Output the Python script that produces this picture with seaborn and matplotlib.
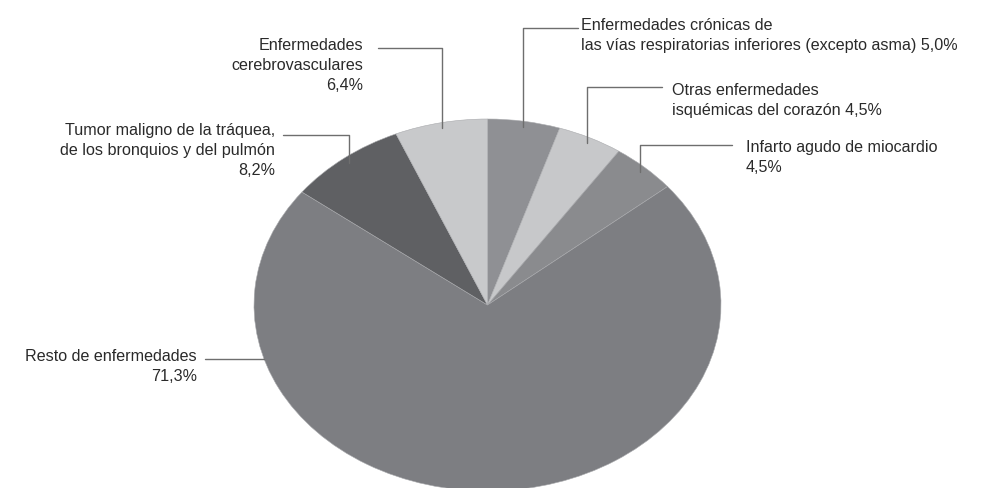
import numpy as np
import matplotlib
matplotlib.use("Agg")
import matplotlib.pyplot as plt
import seaborn as sns

# Datos del gráfico (sentido horario desde las 12)
causas = [
    "Enfermedades crónicas de\nlas vías respiratorias inferiores (excepto asma)",
    "Otras enfermedades\nisquémicas del corazón",
    "Infarto agudo de miocardio",
    "Resto de enfermedades",
    "Tumor maligno de la tráquea,\nde los bronquios y del pulmón",
    "Enfermedades\ncerebrovasculares",
]
porcentajes = [5.0, 4.5, 4.5, 71.3, 8.2, 6.4]
colores = ["#8f9094", "#c7c8ca", "#8a8b8e", "#7d7e82", "#5f6063", "#c8c9cb"]
# separador entre nombre y porcentaje en cada etiqueta
separador = [" ", " ", "\n", "\n", "\n", "\n"]

sns.set_style("white")
plt.rcParams["font.family"] = ["Liberation Sans", "DejaVu Sans"]

W, H = 990, 489
fig = plt.figure(figsize=(W / 100, H / 100), dpi=100)

# geometría de la elipse (en píxeles)
cx, cy, rx, ry = 487.5, 306, 233.5, 186

ax_pie = fig.add_axes([(cx - rx) / W, (H - (cy + ry)) / H, 2 * rx / W, 2 * ry / H])
wedges, _ = ax_pie.pie(porcentajes, colors=colores, startangle=90, counterclock=False,
                       radius=1, wedgeprops=dict(edgecolor="#a9aaad", linewidth=0.4))
ax_pie.set_aspect("auto")
ax_pie.set_xlim(-1, 1)
ax_pie.set_ylim(-1, 1)
ax_pie.axis("off")

# capa superior en coordenadas de píxel para etiquetas y líneas guía
ax = fig.add_axes([0, 0, 1, 1], facecolor="none")
ax.set_xlim(0, W)
ax.set_ylim(H, 0)
ax.axis("off")

# disposición: (x texto, y texto, alineación, y codo, x fin línea, ángulo forzado)
layout = [
    (581, 18, "left", 29, 578, None),
    (672, 83, "left", 88, 662, None),
    (746, 140, "left", 146, 732, None),
    (197, 349, "right", None, 205, 197),
    (275, 123, "right", 136, 283, None),
    (363, 38, "right", 49, 378, None),
]

color_linea = "#6e6e6e"
color_texto = "#2a2a2a"

for w, nombre, pct, sep, (tx, ty, ha, ey, ex, ang) in zip(
        wedges, causas, porcentajes, separador, layout):
    if ang is None:
        ang = (w.theta1 + w.theta2) / 2
    r = 0.97 if ey is not None else 1.0
    ax_x = cx + rx * r * np.cos(np.deg2rad(ang))
    ax_y = cy - ry * r * np.sin(np.deg2rad(ang))
    if ey is None:
        ax.plot([ax_x, ex], [ax_y, ax_y], color=color_linea, lw=1.0)
    else:
        ax.plot([ax_x, ax_x, ex], [ax_y, ey, ey], color=color_linea, lw=1.0)
    etiqueta = f"{nombre}{sep}{pct:.1f}%".replace(".", ",")
    ax.text(tx, ty, etiqueta, ha=ha, va="top", multialignment=ha,
            fontsize=11.65, color=color_texto, linespacing=1.42)

fig.savefig("out.png", dpi=100)
